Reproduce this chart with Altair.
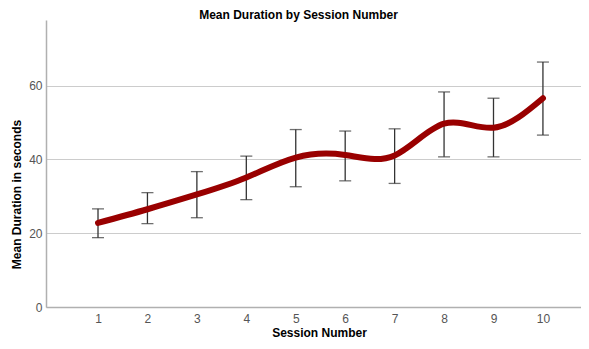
import altair as alt
import pandas as pd

sessions = [1, 2, 3, 4, 5, 6, 7, 8, 9, 10]
means = [22.8, 26.5, 30.5, 35.1, 40.5, 41.2, 41.1, 49.7, 48.6, 56.6]
upper = [26.6, 31.0, 36.7, 40.9, 48.1, 47.7, 48.3, 58.3, 56.6, 66.4]
lower = [18.8, 22.6, 24.2, 29.1, 32.6, 34.2, 33.5, 40.7, 40.7, 46.6]

df = pd.DataFrame({"session": sessions, "mean": means, "upper": upper, "lower": lower})

FONT = "Liberation Sans"

xscale = alt.Scale(domain=[-0.052, 10.77], nice=False, zero=False)
yscale = alt.Scale(domain=[0, 77.8], nice=False)

xaxis = alt.Axis(
    title="Session Number", values=sessions, grid=False, ticks=False, tickSize=0,
    labelFont=FONT, labelFontSize=12, labelColor="#555555", labelPadding=6,
    titleFont=FONT, titleFontSize=12, titleFontWeight="bold", titleColor="#000000",
    titlePadding=3, titleX=273, domainColor="#b0b0b0", domainWidth=1.5, labelFlush=False,
)
yaxis = alt.Axis(
    title="Mean Duration in seconds", values=[0, 20, 40, 60], grid=True,
    gridColor="#cccccc", gridWidth=1, ticks=False, tickSize=0,
    labelFont=FONT, labelFontSize=12, labelColor="#555555", labelPadding=4,
    titleFont=FONT, titleFontSize=12, titleFontWeight="bold", titleColor="#000000",
    titleX=-30, titleY=174, titleBaseline="middle", titleAngle=-90,
    domainColor="#b0b0b0", domainWidth=1.5,
)

base = alt.Chart(df)

rules = base.mark_rule(color="#333333", strokeWidth=1.3).encode(
    x=alt.X("session:Q", scale=xscale, axis=xaxis),
    y=alt.Y("lower:Q", scale=yscale, axis=yaxis),
    y2="upper:Q",
)
caps_top = base.mark_tick(orient="horizontal", size=12, thickness=1.3, color="#333333").encode(
    x=alt.X("session:Q", scale=xscale),
    y=alt.Y("upper:Q", scale=yscale),
)
caps_bot = base.mark_tick(orient="horizontal", size=12, thickness=1.3, color="#333333").encode(
    x=alt.X("session:Q", scale=xscale),
    y=alt.Y("lower:Q", scale=yscale),
)
line = base.mark_line(color="#990000", strokeWidth=6, strokeCap="round", interpolate="natural").encode(
    x=alt.X("session:Q", scale=xscale),
    y=alt.Y("mean:Q", scale=yscale),
)

chart = alt.layer(rules, caps_top, caps_bot, line).properties(
    width=535, height=287,
    title=alt.TitleParams("Mean Duration by Session Number", font=FONT, fontSize=12,
                          fontWeight="bold", color="#000000", anchor="middle", dx=-15,
                          offset=2, dy=4),
    padding={"left": 38, "top": 12, "right": 0, "bottom": 34},
    autosize=alt.AutoSizeParams(type="none"),
).configure_view(stroke=None)

chart.save("out.html", embed_options={"renderer": "svg", "actions": False})
